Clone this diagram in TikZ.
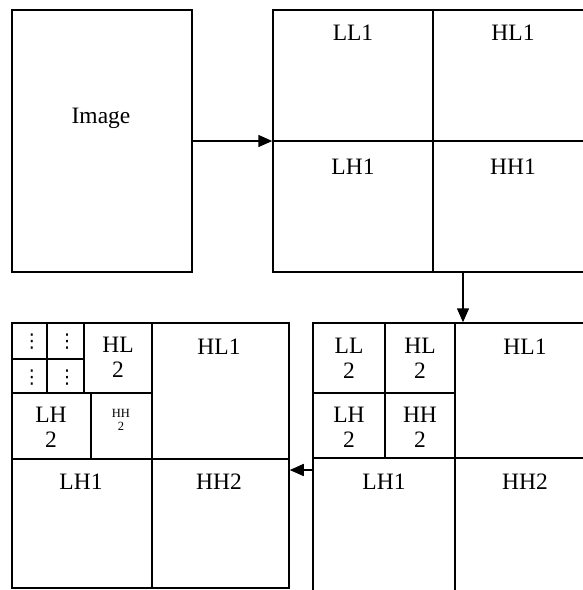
\documentclass[tikz,border=0pt]{standalone}
\usepackage{fontspec}
\setmainfont{Liberation Serif}
\newfontfamily\dotsfont{DejaVu Sans}
\usetikzlibrary{arrows.meta}

\tikzset{
  box/.style={draw, line width=1.5pt, inner sep=0pt},
  grid/.style={line width=1.5pt},
  lbl/.style={font=\fontsize{23.5}{25}\selectfont, align=center, inner sep=0pt},
  tinylbl/.style={font=\fontsize{12.5}{13}\selectfont, align=center, inner sep=0pt},
  dotlbl/.style={font=\dotsfont\fontsize{19}{19}\selectfont, inner sep=0pt},
  arr/.style={-{Triangle[length=14pt,width=12pt]}, line width=1.5pt}
}

\begin{document}
\begin{tikzpicture}[x=1pt,y=-1pt]
\useasboundingbox (0,0) rectangle (583,590);
\clip (0,0) rectangle (583,590);
% input image
\node[box, minimum width=180pt, minimum height=262pt] (img) at (102,141) {};
\node[lbl] (imgtxt) at (101,118) {Image};
% first level
\node[box, minimum width=320pt, minimum height=262pt] (one) at (433,141) {};
\draw[grid] (one.north) -- (one.south);
\draw[grid] (one.west) -- (one.east);
\node[lbl] (ll1) at (353,33) {LL1};
\node[lbl] (hl1) at (513,33) {HL1};
\node[lbl] (lh1) at (353,167) {LH1};
\node[lbl] (hh1) at (513,167) {HH1};
\draw[arr] (img.east) -- (one.west);
% second level
\node[box, minimum width=280pt, minimum height=277pt] (tr) at (453,461.5) {};
\draw[grid] (455,323) -- (455,600);
\draw[grid] (313,458) -- (593,458);
\draw[grid] (385,323) -- (385,458);
\draw[grid] (313,393) -- (455,393);
\node[lbl] (rll2) at (349,358) {LL\\2};
\node[lbl] (rhl2) at (420,358) {HL\\2};
\node[lbl] (rlh2) at (349,427) {LH\\2};
\node[lbl] (rhh2) at (420,427) {HH\\2};
\node[lbl] (rhl1) at (525,347) {HL1};
\node[lbl] (rlh1) at (384,482) {LH1};
\node[lbl] (rhh2b) at (525,482) {HH2};
\coordinate (dn) at (463,272);
\draw[arr] (dn) -- (dn |- tr.north);
% third level
\node[box, minimum width=277pt, minimum height=265pt] (bl) at (150.5,455.5) {};
\draw[grid] (152,323) -- (152,588);
\draw[grid] (12,459) -- (289,459);
\draw[grid] (84,323) -- (84,393);
\draw[grid] (12,393) -- (152,393);
\draw[grid] (91,393) -- (91,459);
\draw[grid] (47,323) -- (47,393);
\draw[grid] (12,359) -- (84,359);
\node[dotlbl] (d1) at (32,342) {⋮};
\node[dotlbl] (d2) at (67,342) {⋮};
\node[dotlbl] (d3) at (32,378) {⋮};
\node[dotlbl] (d4) at (67,378) {⋮};
\node[lbl] (lhl2) at (118,357) {HL\\2};
\node[lbl] (llh2) at (51,427) {LH\\2};
\node[tinylbl] (lhh2) at (121,420) {HH\\2};
\node[lbl] (lhl1) at (219,347) {HL1};
\node[lbl] (llh1) at (81,482) {LH1};
\node[lbl] (lhh2b) at (219,482) {HH2};
\coordinate (lf) at (313,470);
\draw[arr] (lf) -- (lf -| bl.east);
\end{tikzpicture}
\end{document}
